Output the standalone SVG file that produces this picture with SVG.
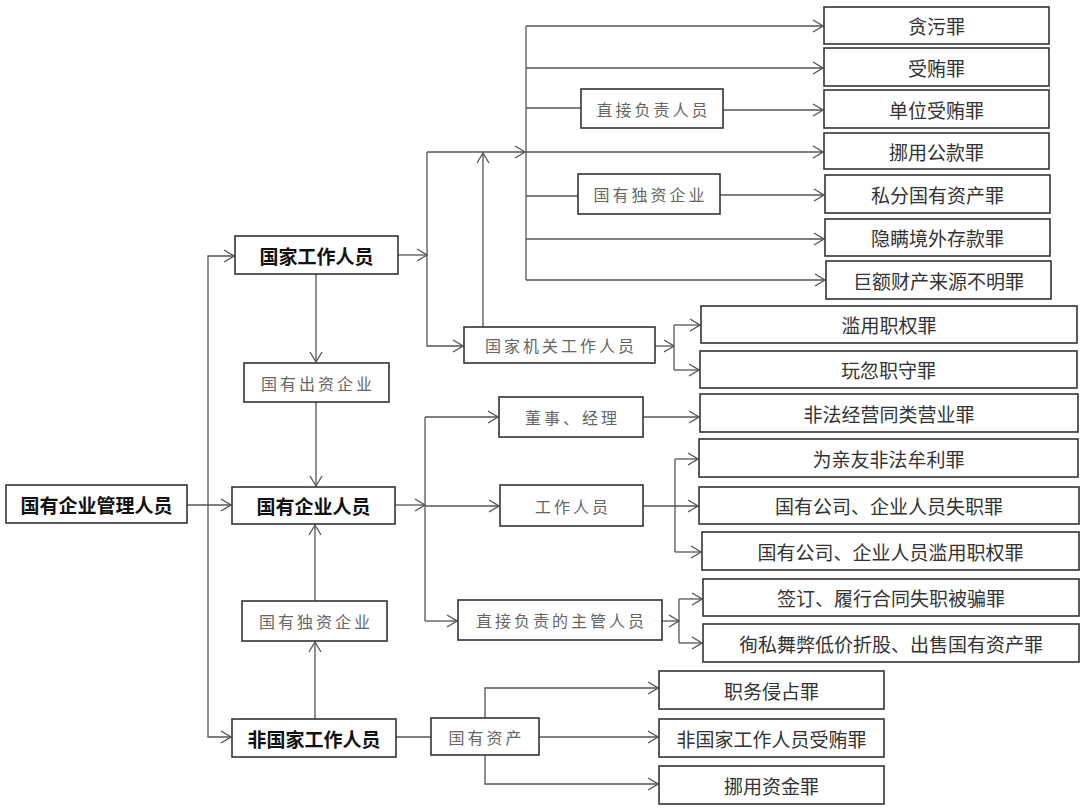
<svg xmlns="http://www.w3.org/2000/svg" width="1080" height="812" viewBox="0 0 1080 812">
<defs>
<style>
.box{fill:#fff;stroke:#333;stroke-width:1.6}
text{font-family:"Noto Sans CJK SC","Noto Sans",sans-serif;text-anchor:middle;dominant-baseline:central}
.crime{font-size:19px;fill:#333}
.main{font-size:19px;font-weight:bold;fill:#111}
.mid{font-size:16px;fill:#666;letter-spacing:3px}
.conn path{fill:none;stroke:#555;stroke-width:1.3}
</style>
<marker id="arr" markerUnits="userSpaceOnUse" markerWidth="12" markerHeight="14" viewBox="0 0 12 14" refX="11" refY="7" orient="auto">
<path d="M1,1 L11,7 L1,13" fill="none" stroke="#555" stroke-width="1.3"/>
</marker>
</defs>
<rect width="1080" height="812" fill="#fff"/>

<g class="conn">
<path d="M187,505 H231" marker-end="url(#arr)"/>
<path d="M208,505 V256 H234" marker-end="url(#arr)"/>
<path d="M208,505 V737 H231" marker-end="url(#arr)"/>
<path d="M398,255 H427" marker-end="url(#arr)"/>
<path d="M427,152 V346 H463" marker-end="url(#arr)"/>
<path d="M427,152 H525" marker-end="url(#arr)"/>
<path d="M483,327 V153" marker-end="url(#arr)"/>
<path d="M526,26 V280"/>
<path d="M526,26 H823" marker-end="url(#arr)"/>
<path d="M526,68 H823" marker-end="url(#arr)"/>
<path d="M526,108 H581"/>
<path d="M526,152 H823" marker-end="url(#arr)"/>
<path d="M526,196 H578"/>
<path d="M526,239 H824" marker-end="url(#arr)"/>
<path d="M526,280 H825" marker-end="url(#arr)"/>
<path d="M723,110 H823" marker-end="url(#arr)"/>
<path d="M720,195 H824" marker-end="url(#arr)"/>
<path d="M316,274 V362" marker-end="url(#arr)"/>
<path d="M316,402 V486" marker-end="url(#arr)"/>
<path d="M655,346 H674" marker-end="url(#arr)"/>
<path d="M674,325 V370"/>
<path d="M674,325 H700" marker-end="url(#arr)"/>
<path d="M674,370 H699" marker-end="url(#arr)"/>
<path d="M395,505 H425" marker-end="url(#arr)"/>
<path d="M425,417 V621"/>
<path d="M425,417 H498" marker-end="url(#arr)"/>
<path d="M425,506 H499" marker-end="url(#arr)"/>
<path d="M425,621 H457" marker-end="url(#arr)"/>
<path d="M643,417 H699" marker-end="url(#arr)"/>
<path d="M643,506 H698" marker-end="url(#arr)"/>
<path d="M675,459 V552"/>
<path d="M675,459 H698" marker-end="url(#arr)"/>
<path d="M675,552 H701" marker-end="url(#arr)"/>
<path d="M662,621 H679" marker-end="url(#arr)"/>
<path d="M679,599 V643"/>
<path d="M679,599 H702" marker-end="url(#arr)"/>
<path d="M679,643 H702" marker-end="url(#arr)"/>
<path d="M315,601 V525" marker-end="url(#arr)"/>
<path d="M315,719 V642" marker-end="url(#arr)"/>
<path d="M396,737 H431"/>
<path d="M539,737 H658" marker-end="url(#arr)"/>
<path d="M485,718 V688 H658" marker-end="url(#arr)"/>
<path d="M485,755 V784 H658" marker-end="url(#arr)"/>
</g>

<g id="n_root"><rect class="box" x="6" y="485" width="181" height="38"/><text class="main" x="96.5" y="504">国有企业管理人员</text></g>
<g id="n_gjgzry"><rect class="box" x="235" y="236" width="163" height="38"/><text class="main" x="316.5" y="255">国家工作人员</text></g>
<g id="n_gyczqy"><rect class="box" x="244" y="363" width="145" height="39"/><text class="mid" x="318" y="382.5">国有出资企业</text></g>
<g id="n_gyqyry"><rect class="box" x="232" y="487" width="163" height="37"/><text class="main" x="313.5" y="505.5">国有企业人员</text></g>
<g id="n_gydzqy2"><rect class="box" x="242" y="601" width="145" height="40"/><text class="mid" x="316" y="621">国有独资企业</text></g>
<g id="n_fgjgzry"><rect class="box" x="232" y="719" width="164" height="38"/><text class="main" x="314" y="738">非国家工作人员</text></g>
<g id="n_gyzc"><rect class="box" x="431" y="718" width="108" height="37"/><text class="mid" x="486.5" y="736.5">国有资产</text></g>
<g id="n_gjjggzry"><rect class="box" x="464" y="327" width="191" height="36"/><text class="mid" x="561" y="345">国家机关工作人员</text></g>
<g id="n_zjfzry"><rect class="box" x="581" y="89" width="142" height="39"/><text class="mid" x="653.5" y="108.5">直接负责人员</text></g>
<g id="n_gydzqy1"><rect class="box" x="578" y="174" width="142" height="40"/><text class="mid" x="650.5" y="194">国有独资企业</text></g>
<g id="n_dsjl"><rect class="box" x="499" y="397" width="144" height="40"/><text class="mid" x="572.5" y="417">董事、经理</text></g>
<g id="n_gzry"><rect class="box" x="500" y="485" width="143" height="41"/><text class="mid" x="573" y="505.5">工作人员</text></g>
<g id="n_zjfzdzgry"><rect class="box" x="458" y="600" width="204" height="40"/><text class="mid" x="561.5" y="620">直接负责的主管人员</text></g>

<g id="c1"><rect class="box" x="824" y="7" width="225" height="37"/><text class="crime" x="936.5" y="25.5">贪污罪</text></g>
<g id="c2"><rect class="box" x="824" y="48" width="225" height="38"/><text class="crime" x="936.5" y="67">受贿罪</text></g>
<g id="c3"><rect class="box" x="824" y="90" width="225" height="38"/><text class="crime" x="936.5" y="109">单位受贿罪</text></g>
<g id="c4"><rect class="box" x="824" y="133" width="225" height="36"/><text class="crime" x="936.5" y="151">挪用公款罪</text></g>
<g id="c5"><rect class="box" x="825" y="175" width="225" height="38"/><text class="crime" x="937.5" y="194">私分国有资产罪</text></g>
<g id="c6"><rect class="box" x="825" y="219" width="225" height="37"/><text class="crime" x="937.5" y="237.5">隐瞒境外存款罪</text></g>
<g id="c7"><rect class="box" x="826" y="261" width="225" height="38"/><text class="crime" x="938.5" y="280">巨额财产来源不明罪</text></g>
<g id="c8"><rect class="box" x="701" y="306" width="376" height="37"/><text class="crime" x="889" y="324.5">滥用职权罪</text></g>
<g id="c9"><rect class="box" x="700" y="351" width="377" height="37"/><text class="crime" x="888.5" y="369.5">玩忽职守罪</text></g>
<g id="c10"><rect class="box" x="700" y="394" width="378" height="38"/><text class="crime" x="889" y="413">非法经营同类营业罪</text></g>
<g id="c11"><rect class="box" x="699" y="439" width="379" height="38"/><text class="crime" x="888.5" y="458">为亲友非法牟利罪</text></g>
<g id="c12"><rect class="box" x="699" y="487" width="380" height="37"/><text class="crime" x="889" y="505.5">国有公司、企业人员失职罪</text></g>
<g id="c13"><rect class="box" x="702" y="532" width="377" height="38"/><text class="crime" x="890.5" y="551">国有公司、企业人员滥用职权罪</text></g>
<g id="c14"><rect class="box" x="703" y="579" width="376" height="37"/><text class="crime" x="891" y="597.5">签订、履行合同失职被骗罪</text></g>
<g id="c15"><rect class="box" x="703" y="624" width="376" height="38"/><text class="crime" x="891" y="643">徇私舞弊低价折股、出售国有资产罪</text></g>
<g id="c16"><rect class="box" x="659" y="671" width="225" height="38"/><text class="crime" x="771.5" y="690">职务侵占罪</text></g>
<g id="c17"><rect class="box" x="659" y="719" width="225" height="38"/><text class="crime" x="771.5" y="738">非国家工作人员受贿罪</text></g>
<g id="c18"><rect class="box" x="659" y="766" width="225" height="38"/><text class="crime" x="771.5" y="785">挪用资金罪</text></g>
</svg>
